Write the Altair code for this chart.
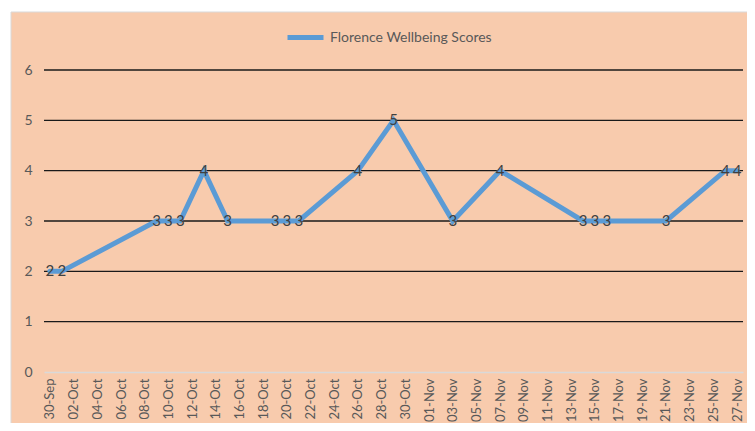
import altair as alt
import pandas as pd

# ---- data ----
dates = ["2019-09-30", "2019-10-01", "2019-10-09", "2019-10-10", "2019-10-11",
         "2019-10-13", "2019-10-15", "2019-10-19", "2019-10-20", "2019-10-21",
         "2019-10-26", "2019-10-29", "2019-11-03", "2019-11-07", "2019-11-14",
         "2019-11-15", "2019-11-16", "2019-11-21", "2019-11-26", "2019-11-27"]
scores = [2, 2, 3, 3, 3, 4, 3, 3, 3, 3, 4, 5, 3, 4, 3, 3, 3, 3, 4, 4]
series_name = "Florence Wellbeing Scores"
y_ticks = [0, 1, 2, 3, 4, 5, 6]
x_tick_dates = pd.date_range("2019-09-30", "2019-11-27", freq="2D")

BG = "#F8CBAD"
LINE = "#5B9BD5"
TXT = "#595959"
FONT = "Lato"

df = pd.DataFrame({"date": [d + "T00:00:00" for d in dates],
                   "score": scores,
                   "series": series_name})
grid_df = pd.DataFrame({"score": [v for v in y_ticks if v > 0]})

W, H = 699, 302

x_values = [alt.DateTime(year=d.year, month=d.month, date=d.day) for d in x_tick_dates]
x_scale = alt.Scale(domain=[alt.DateTime(year=2019, month=9, date=29, hours=12),
                            alt.DateTime(year=2019, month=11, date=27, hours=12)])
y_scale = alt.Scale(domain=[0, 6], nice=False)

x_axis = alt.Axis(values=x_values, format="%d-%b", labelAngle=-90,
                  labelColor=TXT, labelFont=FONT, labelFontSize=13,
                  labelPadding=6, ticks=False, grid=False,
                  domainColor="#D9D9D9", domainWidth=1.5,
                  labelOverlap=False, labelFlush=False, labelBound=False,
                  zindex=1)
y_axis = alt.Axis(values=y_ticks, labelColor=TXT, labelFont=FONT,
                  labelFontSize=14, labelPadding=12, ticks=False,
                  grid=False, domain=False, labelOverlap=False,
                  labelFlush=False, zindex=1)

x_enc = alt.X("date:T", scale=x_scale, title=None, axis=x_axis)
y_enc = alt.Y("score:Q", scale=y_scale, title=None, axis=y_axis)

backdrop = alt.Chart(alt.Data(values=[{"a": 1}])).mark_rect(
    fill=BG, stroke="#D9D9D9", strokeWidth=1
).encode(x=alt.value(-33), x2=alt.value(720), y=alt.value(-58), y2=alt.value(360))

grid = alt.Chart(grid_df).mark_rule(color="#1a1a1a", strokeWidth=1.3).encode(
    y=y_enc, x=alt.value(0), x2=alt.value(W))

line = alt.Chart(df).mark_line(strokeWidth=5, strokeCap="round").encode(
    x=x_enc, y=y_enc,
    color=alt.Color("series:N", scale=alt.Scale(range=[LINE]), title=None,
                    legend=alt.Legend(orient="none", legendX=241, legendY=-53,
                                      symbolType="stroke", symbolSize=1296,
                                      symbolStrokeWidth=5, labelFont=FONT,
                                      labelFontSize=14, labelColor=TXT,
                                      labelOffset=4, labelLimit=0, zindex=1)))

labels = alt.Chart(df).mark_text(align="center", baseline="middle", font=FONT,
                                 fontSize=15, color="#404040").encode(
    x=x_enc, y=y_enc, text="score:Q")

chart = alt.layer(backdrop, grid, line, labels).properties(
    width=W, height=H, background="white",
    padding={"left": 36, "top": 62, "right": 4, "bottom": 51},
    autosize=alt.AutoSizeParams(type="none"),
).configure_view(stroke=None)

chart.save("out.html", embed_options={"renderer": "svg", "actions": False})
